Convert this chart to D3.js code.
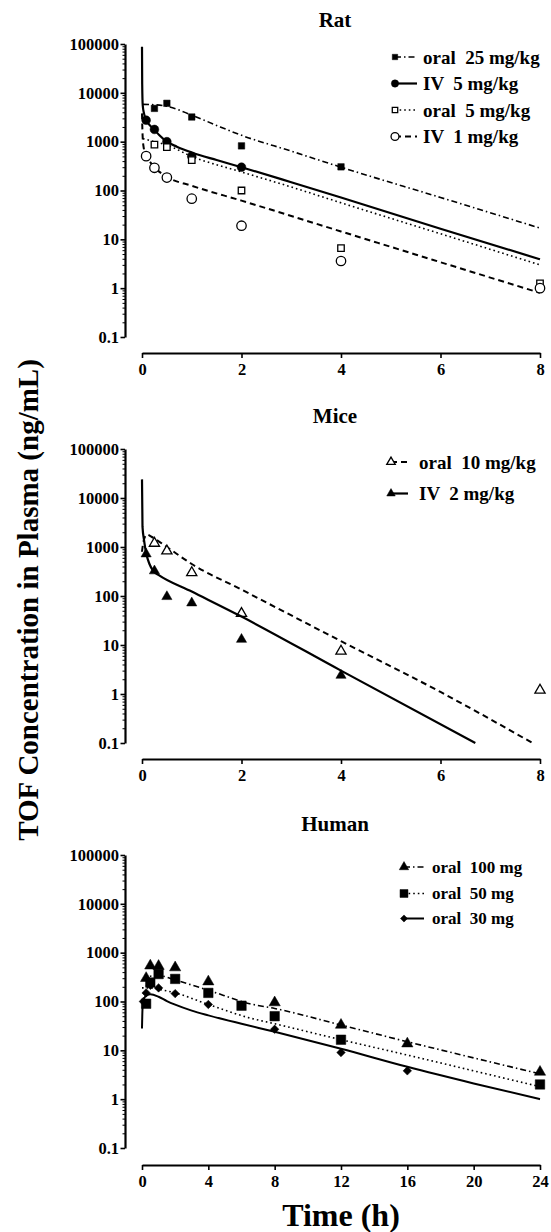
<!DOCTYPE html>
<html><head><meta charset="utf-8">
<script src="https://cdn.jsdelivr.net/npm/d3@7"></script>
<style>
body{margin:0;background:#fff}
text{font-family:"Liberation Serif","Times New Roman",serif;font-weight:bold;fill:#000}
</style></head>
<body><svg id="c" width="551" height="1232"></svg>
<script>
// ---------- DATA ----------
const yTickValues = [0.1, 1, 10, 100, 1000, 10000, 100000];
const yTickLabels = ["0.1", "1", "10", "100", "1000", "10000", "100000"];
const xTicksAnimal = [0, 2, 4, 6, 8];
const xTicksHuman = [0, 4, 8, 12, 16, 20, 24];

// Rat observed [time h, ng/mL]
const ratOral25Obs = [[0.25,4800],[0.5,6100],[1,3200],[2,820],[4,305]];
const ratIV5Obs    = [[0.083,2750],[0.25,1780],[0.5,1000],[1,500],[2,300]];
const ratOral5Obs  = [[0.25,870],[0.5,770],[1,420],[2,100],[4,6.6],[8,1.25]];
const ratIV1Obs    = [[0.083,505],[0.25,292],[0.5,184],[1,68],[2,19],[4,3.6],[8,1.0]];
// Rat model fits
const ratOral25Fit = [[0.02,5800],[0.25,5700],[0.5,5300],[1,3500],[1.5,2150],[2,1350],[3,640],[4,300],[6,72],[8,17]];
const ratIV5Fit    = [[0,88000],[0.004,15000],[0.015,5500],[0.04,3800],[0.083,2800],[0.15,2200],[0.25,1750],[0.35,1350],[0.5,1000],[0.7,790],[1,600],[1.5,420],[2,300],[3,148],[4,72],[6,16.5],[8,3.9]];
const ratOral5Fit  = [[0.02,1150],[0.25,1000],[0.5,850],[1,500],[2,240],[3,118],[4,56],[6,13],[8,3.0]];
const ratIV1Fit    = [[0,3800],[0.01,1500],[0.03,800],[0.083,520],[0.15,400],[0.25,300],[0.5,190],[1,125],[2,62],[4,14.5],[6,3.4],[8,0.8]];

// Mice observed
const miceOral10Obs = [[0.25,1190],[0.5,830],[1,300],[2,44],[4,7.5],[8,1.2]];
const miceIV2Obs    = [[0.083,720],[0.25,325],[0.5,97],[1,72],[2,13],[4,2.4]];
// Mice model fits
const miceOral10Fit = [[0,800],[0.03,1300],[0.1,1800],[0.2,1600],[0.5,1000],[1,450],[2,135],[4,12],[6,1.1],[7.85,0.1]];
const miceIV2Fit    = [[0,24000],[0.01,2600],[0.04,1400],[0.09,700],[0.15,450],[0.23,320],[0.33,270],[1,123],[2,38],[4,3.0],[6.7,0.1]];

// Human observed
const humOral100Obs = [[0.25,300],[0.5,540],[1,530],[2,495],[4,255],[8,95],[12,33],[16,13.7],[24,3.6]];
const humOral50Obs  = [[0.25,90],[0.5,245],[1,365],[2,290],[4,150],[6,82],[8,50],[12,16.5],[24,2.0]];
const humOral30Obs  = [[0.083,100],[0.25,150],[0.5,215],[1,190],[2,145],[4,87],[8,27],[12,9],[16,3.8]];
// Human model fits
const humOral100Fit = [[0,270],[0.5,330],[1,340],[2,275],[4,170],[6.5,90],[8,72],[12,33],[16,15],[20,7],[24,3.3]];
const humOral50Fit  = [[0,190],[0.5,190],[1,178],[2,150],[4,87],[6.5,46],[8,35],[12,16.5],[16,8],[20,3.8],[24,1.8]];
const humOral30Fit  = [[0,28],[0.03,70],[0.1,110],[0.3,135],[0.5,140],[1,125],[1.5,102],[2,86],[3,65],[4,52],[6,35],[8,24],[12,10.8],[16,4.6],[20,2.1],[24,1.0]];

const titles = ["Rat", "Mice", "Human"];
const ratLabels = ["oral  25 mg/kg", "IV  5 mg/kg", "oral  5 mg/kg", "IV  1 mg/kg"];
const miceLabels = ["oral  10 mg/kg", "IV  2 mg/kg"];
const humLabels = ["oral  100 mg", "oral  50 mg", "oral  30 mg"];
const yAxisTitle = "TOF Concentration in Plasma (ng/mL)";
const xAxisTitle = "Time (h)";

// ---------- STYLES ----------
const DASHDOT = "6,3,1.5,3";
const DOT = "1.6,3";
const DASH = "6,4";

const svg = d3.select("#c");
const X0 = 142, X1 = 540, YAX = 125;

function marker(g, type, x, y, s) {
  const sym = {
    sqF: [d3.symbolSquare, 0, true], sqO: [d3.symbolSquare, 0, false],
    ciF: [d3.symbolCircle, 0, true], ciO: [d3.symbolCircle, 0, false],
    trF: [d3.symbolTriangle, 0, true], trO: [d3.symbolTriangle, 0, false],
    diF: [d3.symbolSquare, 45, true]
  }[type];
  g.append("path")
    .attr("d", d3.symbol().type(sym[0]).size(s)())
    .attr("transform", `translate(${x},${y}) rotate(${sym[1]})`)
    .attr("fill", sym[2] ? "#000" : "#fff")
    .attr("stroke", "#000").attr("stroke-width", sym[2] ? 0.5 : 1.3);
}

function panel(cfg) {
  const g = svg.append("g");
  const x = d3.scaleLinear().domain([0, cfg.xMax]).range([X0, X1]);
  const y = d3.scaleLog().domain([0.1, 100000]).range([cfg.yBot, cfg.yTop]);

  // y axis: minor ticks
  const minor = [];
  for (let e = -1; e < 5; e++) for (let k = 2; k <= 9; k++) minor.push(k * Math.pow(10, e));
  g.append("g").attr("transform", `translate(${YAX},0)`)
    .call(d3.axisLeft(y).tickValues(minor).tickSize(2.5).tickFormat(""))
    .call(a => a.select(".domain").remove())
    .call(a => a.selectAll("line").attr("stroke-width", 1));
  g.append("g").attr("transform", `translate(${YAX},0)`)
    .call(d3.axisLeft(y).tickValues(yTickValues).tickSize(4.5).tickSizeOuter(0).tickPadding(1.5)
      .tickFormat((d, i) => yTickLabels[i]))
    .call(a => a.select(".domain").attr("stroke-width", 2.2))
    .call(a => a.selectAll("line").attr("stroke-width", 1.6))
    .call(a => a.selectAll("text").attr("font-size", 16.5).attr("font-family", "Liberation Serif").attr("font-weight", "bold"));

  // x axis
  g.append("g").attr("transform", `translate(0,${cfg.xAxisY})`)
    .call(d3.axisBottom(x).tickValues(cfg.xTicks).tickSize(5).tickSizeOuter(0).tickPadding(5))
    .call(a => a.select(".domain").attr("stroke-width", 2.2))
    .call(a => a.selectAll("line").attr("stroke-width", 1.6))
    .call(a => a.selectAll("text").attr("font-size", 16.5).attr("font-family", "Liberation Serif").attr("font-weight", "bold"));

  // title
  g.append("text").attr("x", 335).attr("y", cfg.titleY).attr("text-anchor", "middle")
    .attr("font-size", 21).text(cfg.title);

  const line = d3.line().x(d => x(d[0])).y(d => y(d[1])).curve(d3.curveMonotoneX);

  cfg.series.forEach((s, i) => {
    g.append("path").datum(s.fit).attr("d", line)
      .attr("fill", "none").attr("stroke", "#000").attr("stroke-width", s.lw || 2)
      .attr("stroke-dasharray", s.dash || null);
    s.obs.forEach(p => marker(g, s.mk, x(p[0]), y(p[1]), s.size));
    // legend
    const ly = cfg.legY[i];
    g.append("line").attr("x1", cfg.legX).attr("x2", cfg.legX + cfg.legLen).attr("y1", ly).attr("y2", ly)
      .attr("stroke", "#000").attr("stroke-width", s.lw || 2).attr("stroke-dasharray", s.dash || null);
    marker(g, s.mk, cfg.legX, ly, s.size * 0.7);
    g.append("text").attr("x", cfg.legX + cfg.legText).attr("y", ly).attr("dy", "0.35em")
      .attr("font-size", cfg.legFont).attr("xml:space", "preserve").style("white-space", "pre").text(s.label);
  });
}

panel({
  title: titles[0], titleY: 27, yTop: 44, yBot: 337, xAxisY: 353, xMax: 8, xTicks: xTicksAnimal,
  legX: 395, legY: [57, 83.5, 110, 136.5], legLen: 22, legText: 28, legFont: 19,
  series: [
    {label: ratLabels[0], obs: ratOral25Obs, fit: ratOral25Fit, mk: "sqF", size: 42, dash: DASHDOT, lw: 1.6},
    {label: ratLabels[1], obs: ratIV5Obs, fit: ratIV5Fit, mk: "ciF", size: 60, lw: 2.2},
    {label: ratLabels[2], obs: ratOral5Obs, fit: ratOral5Fit, mk: "sqO", size: 42, dash: DOT, lw: 1.6},
    {label: ratLabels[3], obs: ratIV1Obs, fit: ratIV1Fit, mk: "ciO", size: 70, dash: DASH, lw: 2}
  ]
});
panel({
  title: titles[1], titleY: 423, yTop: 449, yBot: 743, xAxisY: 759, xMax: 8, xTicks: xTicksAnimal,
  legX: 391, legY: [462, 493.5], legLen: 17, legText: 28, legFont: 19,
  series: [
    {label: miceLabels[0], obs: miceOral10Obs, fit: miceOral10Fit, mk: "trO", size: 45, dash: DASH, lw: 2},
    {label: miceLabels[1], obs: miceIV2Obs, fit: miceIV2Fit, mk: "trF", size: 45, lw: 2.2}
  ]
});
panel({
  title: titles[2], titleY: 831, yTop: 855, yBot: 1148, xAxisY: 1165, xMax: 24, xTicks: xTicksHuman,
  legX: 404, legY: [867, 893.5, 918.5], legLen: 20, legText: 28, legFont: 17,
  series: [
    {label: humLabels[0], obs: humOral100Obs, fit: humOral100Fit, mk: "trF", size: 55, dash: DASHDOT, lw: 1.6},
    {label: humLabels[1], obs: humOral50Obs, fit: humOral50Fit, mk: "sqF", size: 90, dash: DOT, lw: 1.6},
    {label: humLabels[2], obs: humOral30Obs, fit: humOral30Fit, mk: "diF", size: 36, lw: 2}
  ]
});

// axis titles
svg.append("text").attr("transform", "translate(38,600) rotate(-90)").attr("text-anchor", "middle")
  .attr("font-size", 29).text(yAxisTitle);
svg.append("text").attr("x", 341).attr("y", 1226).attr("text-anchor", "middle")
  .attr("font-size", 32).text(xAxisTitle);
</script></body></html>
